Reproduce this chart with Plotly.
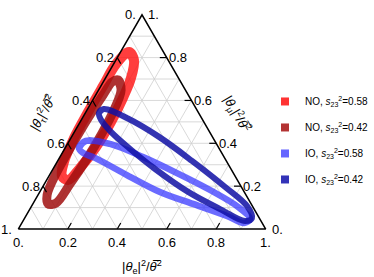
import math
import plotly.graph_objects as go

S3 = math.sqrt(3) / 2

# ---- data: normalised |theta_e|^2 and |theta_mu|^2 along each band
#      (|theta_tau|^2 = 1 - e - mu)
NO58_e = [0.035, 0.073, 0.103, 0.117, 0.125, 0.123, 0.107, 0.086, 0.053, 0.028, 0.013, 0.009, 0.009, 0.010]
NO58_mu = [0.826, 0.789, 0.705, 0.612, 0.500, 0.383, 0.285, 0.229, 0.247, 0.313, 0.425, 0.546, 0.668, 0.770]
NO42_e = [0.055, 0.091, 0.109, 0.115, 0.113, 0.104, 0.092, 0.062, 0.037, 0.023, 0.021, 0.023, 0.030, 0.036]
NO42_mu = [0.696, 0.649, 0.556, 0.439, 0.322, 0.210, 0.121, 0.117, 0.159, 0.266, 0.392, 0.518, 0.626, 0.686]
IO58_e = [0.056, 0.068, 0.172, 0.336, 0.511, 0.684, 0.837, 0.913, 0.898, 0.813, 0.648, 0.486, 0.313, 0.144, 0.084]
IO58_mu = [0.378, 0.411, 0.397, 0.336, 0.261, 0.182, 0.103, 0.047, 0.028, 0.061, 0.117, 0.173, 0.252, 0.332, 0.355]
IO42_e = [0.055, 0.066, 0.180, 0.354, 0.543, 0.738, 0.871, 0.919, 0.898, 0.769, 0.600, 0.413, 0.258, 0.148, 0.080]
IO42_mu = [0.542, 0.560, 0.518, 0.430, 0.318, 0.196, 0.107, 0.051, 0.037, 0.093, 0.173, 0.280, 0.378, 0.453, 0.509]

SERIES_NAMES = ["NO, <i>s</i><sub>23</sub><sup>2</sup>=0.58",
                "NO, <i>s</i><sub>23</sub><sup>2</sup>=0.42",
                "IO, <i>s</i><sub>23</sub><sup>2</sup>=0.58",
                "IO, <i>s</i><sub>23</sub><sup>2</sup>=0.42"]

TICK_VALS = [0.0, 0.2, 0.4, 0.6, 0.8, 1.0]
TICK_LABELS = ["0.", "0.2", "0.4", "0.6", "0.8", "1."]
GRID_VALS = [0.1, 0.2, 0.3, 0.4, 0.5, 0.6, 0.7, 0.8, 0.9]

TITLE_E = "|<i>θ</i><sub>e</sub>|<sup>2</sup>/<i>θ\u0305</i><sup>2</sup>"
TITLE_MU = "|<i>θ</i><sub>μ</sub>|<sup>2</sup>/<i>θ\u0305</i><sup>2</sup>"
TITLE_TAU = "|<i>θ</i><sub>τ</sub>|<sup>2</sup>/<i>θ\u0305</i><sup>2</sup>"


def tern(e, mu):
    """ternary (e, mu) -> cartesian (x, y); e=1 bottom-right, mu=1 top, tau=1 bottom-left"""
    return e + mu / 2.0, mu * S3


FONT = "Liberation Sans, Arial, sans-serif"
fig = go.Figure()

# ---- grid
gx, gy = [], []
for v in GRID_VALS:
    for (e0, m0, e1, m1) in [(v, 0, v, 1 - v), (0, v, 1 - v, v), (0, 1 - v, 1 - v, 0)]:
        x0, y0 = tern(e0, m0)
        x1, y1 = tern(e1, m1)
        gx += [x0, x1, None]
        gy += [y0, y1, None]
fig.add_trace(go.Scatter(x=gx, y=gy, mode="lines", line=dict(color="#cfcfcf", width=0.8),
                         hoverinfo="skip", showlegend=False))

# ---- bands
styles = [
    (NO58_e, NO58_mu, "rgba(255,20,20,0.82)", 10),
    (NO42_e, NO42_mu, "rgba(160,15,15,0.85)", 9),
    (IO58_e, IO58_mu, "rgba(50,50,255,0.72)", 6.5),
    (IO42_e, IO42_mu, "rgba(15,15,165,0.85)", 6),
]
for (es, ms, col, w), name in zip(styles, SERIES_NAMES):
    ee = es + es[:3]
    mm = ms + ms[:3]
    xy = [tern(a, b) for a, b in zip(ee, mm)]
    fig.add_trace(go.Scatter(x=[p[0] for p in xy], y=[p[1] for p in xy], mode="lines",
                             line=dict(color=col, width=w, shape="spline", smoothing=1.0),
                             hoverinfo="skip", showlegend=False))

# ---- triangle frame
fx, fy = zip(*[tern(0, 0), tern(1, 0), tern(0, 1), tern(0, 0)])
fig.add_trace(go.Scatter(x=list(fx), y=list(fy), mode="lines", line=dict(color="black", width=1.5),
                         hoverinfo="skip", showlegend=False))

# ---- ticks
L = 0.028
tx, ty = [], []
for v in TICK_VALS[1:-1]:
    for (e0, m0, e1, m1) in [(v, 0, v, L), (1 - v, v, 1 - v - L, v), (0, 1 - v, L, 1 - v - L)]:
        x0, y0 = tern(e0, m0)
        x1, y1 = tern(e1, m1)
        tx += [x0, x1, None]
        ty += [y0, y1, None]
fig.add_trace(go.Scatter(x=tx, y=ty, mode="lines", line=dict(color="black", width=1.2),
                         hoverinfo="skip", showlegend=False))

# ---- legend entries
for (es, ms, col, w), name, sw in zip(styles, SERIES_NAMES, ["#ff3333", "#b33333", "#6666ff", "#3333b8"]):
    fig.add_trace(go.Scatter(x=[None], y=[None], mode="markers", name=name, legendgroup=name,
                             marker=dict(symbol="square", size=8, color=sw)))

ann = []
for v, lab in zip(TICK_VALS, TICK_LABELS):
    x, y = tern(v, 0)
    ann.append(dict(x=x, y=y, text=lab, yshift=-13, xanchor="center", yanchor="middle"))
    x, y = tern(1 - v, v)
    ann.append(dict(x=x, y=y, text=lab, xshift=11.5, xanchor="center", yanchor="middle"))
    x, y = tern(0, 1 - v)
    ann.append(dict(x=x, y=y, text=lab, xshift=-12, xanchor="center", yanchor="middle"))
for a in ann:
    a.update(showarrow=False, font=dict(size=13, color="black", family=FONT))

titles = [
    dict(x=0.5, y=0, yshift=-38, text=TITLE_E, textangle=0),
    dict(x=0.0998, y=0.469, text=TITLE_TAU, textangle=-60),
    dict(x=0.884, y=0.465, text=TITLE_MU, textangle=60),
]
for t in titles:
    t.update(showarrow=False, xanchor="center", yanchor="middle",
             font=dict(size=13, color="black", family=FONT))
    ann.append(t)

fig.update_layout(
    width=374, height=277,
    margin=dict(l=0, r=0, t=0, b=0),
    paper_bgcolor="white", plot_bgcolor="white",
    xaxis=dict(range=[-0.07397, 1.43775], visible=False, fixedrange=True),
    yaxis=dict(range=[-0.19402, 0.92563], visible=False, fixedrange=True),
    annotations=ann,
    showlegend=True,
    legend=dict(x=0.709, y=0.686, xanchor="left", yanchor="top",
                font=dict(size=10, family=FONT, color="black"),
                traceorder="grouped", tracegroupgap=7, bgcolor="rgba(0,0,0,0)"),
)

fig.write_html("out.html", config={"displayModeBar": False},
               post_script="document.body.style.margin='0px';document.body.style.padding='0px';")
